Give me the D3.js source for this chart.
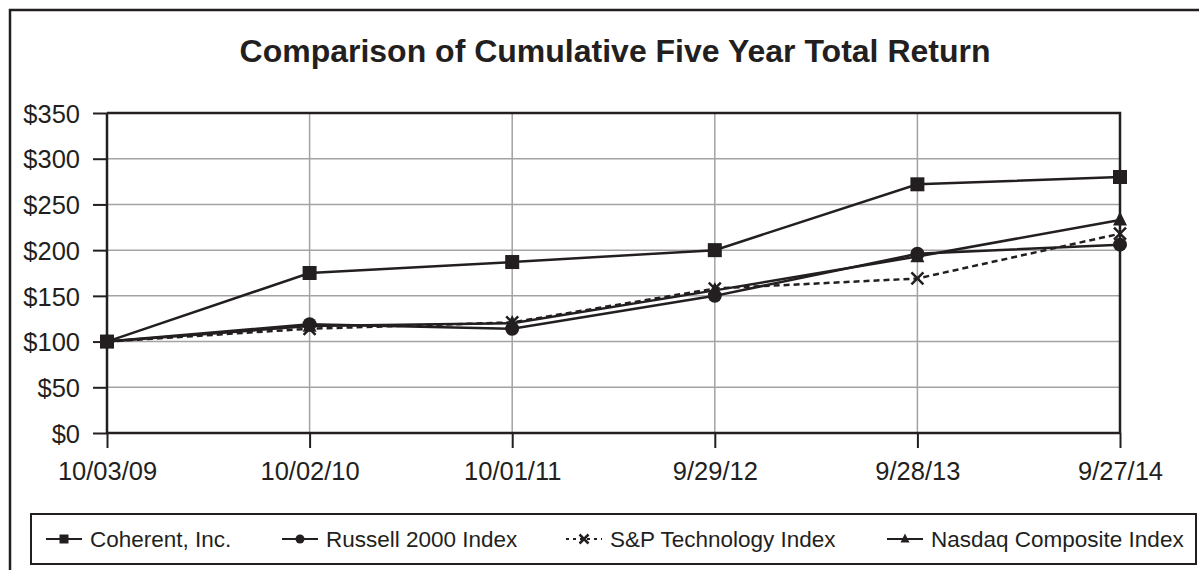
<!DOCTYPE html>
<html>
<head>
<meta charset="utf-8">
<title>Comparison of Cumulative Five Year Total Return</title>
<script src="https://cdn.jsdelivr.net/npm/d3@7"></script>
<style>
  body { margin: 0; background: #fff; }
  svg { display: block; font-family: Arial, "Liberation Sans", Helvetica, sans-serif; }
</style>
</head>
<body>
<svg id="chart"></svg>
<script>
// data
const dates = ["10/03/09", "10/02/10", "10/01/11", "9/29/12", "9/28/13", "9/27/14"];
const coherent = [100, 175, 187, 200, 272, 280];
const russell = [100, 119, 114, 150, 196, 206];
const spTech = [100, 114, 121, 158, 169, 218];
const nasdaq = [100, 117, 120, 156, 193, 233];
const yTicks = [0, 50, 100, 150, 200, 250, 300, 350];

const series = [
  { name: "Coherent, Inc.", values: coherent, marker: "square", dash: null, lx: 46 },
  { name: "Russell 2000 Index", values: russell, marker: "circle", dash: null, lx: 282 },
  { name: "S&P Technology Index", values: spTech, marker: "cross", dash: "6,4", lx: 566 },
  { name: "Nasdaq Composite Index", values: nasdaq, marker: "triangle", dash: null, lx: 887 }
];

const W = 1199, H = 570;
const ink = "#231f20";
const svg = d3.select("#chart").attr("width", W).attr("height", H);

// outer frame (runs off the right and bottom edge)
svg.append("rect")
  .attr("x", 10).attr("y", 10).attr("width", 1220).attr("height", 600)
  .attr("fill", "none").attr("stroke", ink).attr("stroke-width", 2.5);

svg.append("text")
  .attr("x", 615).attr("y", 62)
  .attr("text-anchor", "middle")
  .attr("font-size", 32).attr("font-weight", "bold")
  .attr("fill", ink)
  .text("Comparison of Cumulative Five Year Total Return");

const plot = { left: 107, right: 1120, top: 113, bottom: 433 };

const x = d3.scalePoint().domain(dates).range([plot.left, plot.right]);
const y = d3.scaleLinear().domain([0, 350]).range([plot.bottom, plot.top]);

// grid
const grid = svg.append("g");
grid.selectAll(".hg").data(yTicks.slice(1, -1)).enter().append("line")
  .attr("x1", plot.left).attr("x2", plot.right)
  .attr("y1", d => y(d)).attr("y2", d => y(d))
  .attr("stroke", "#a3a3a3").attr("stroke-width", 1.5);
grid.selectAll(".vg").data(dates.slice(1, -1)).enter().append("line")
  .attr("x1", d => x(d)).attr("x2", d => x(d))
  .attr("y1", plot.top).attr("y2", plot.bottom)
  .attr("stroke", "#a3a3a3").attr("stroke-width", 1.5);

// plot border top + right
svg.append("path")
  .attr("d", `M${plot.left},${plot.top}H${plot.right}V${plot.bottom}`)
  .attr("fill", "none").attr("stroke", ink).attr("stroke-width", 2.5);

// axes
const yAxis = svg.append("g")
  .attr("transform", `translate(${plot.left},0)`)
  .call(d3.axisLeft(y).tickValues(yTicks).tickSize(14).tickPadding(13).tickFormat(d => "$" + d));
const xAxis = svg.append("g")
  .attr("transform", `translate(0,${plot.bottom})`)
  .call(d3.axisBottom(x).tickSize(15).tickPadding(14));

[yAxis, xAxis].forEach(a => {
  a.select(".domain").attr("stroke", ink).attr("stroke-width", 2.5);
  a.selectAll(".tick line").attr("stroke", ink).attr("stroke-width", 2);
  a.selectAll(".tick text").attr("fill", ink).attr("font-size", 25.5)
    .attr("font-family", "Arial, 'Liberation Sans', sans-serif");
});
yAxis.select(".domain").attr("d", `M0,${plot.top}V${plot.bottom}`);
xAxis.select(".domain").attr("d", `M${plot.left},0H${plot.right}`);
yAxis.selectAll(".tick text").attr("dy", "0.36em");

// markers
function drawMarker(g, type, cx, cy, s) {
  if (type === "square") {
    g.append("rect").attr("x", cx - s / 2).attr("y", cy - s / 2)
      .attr("width", s).attr("height", s).attr("fill", ink);
  } else if (type === "circle") {
    g.append("circle").attr("cx", cx).attr("cy", cy).attr("r", s / 2).attr("fill", ink);
  } else if (type === "triangle") {
    g.append("path")
      .attr("d", `M${cx},${cy - s * 0.6}L${cx + s / 2},${cy + s * 0.4}L${cx - s / 2},${cy + s * 0.4}Z`)
      .attr("fill", ink);
  } else if (type === "cross") {
    const h = s / 2;
    g.append("path")
      .attr("d", `M${cx - h},${cy - h}L${cx + h},${cy + h}M${cx + h},${cy - h}L${cx - h},${cy + h}`)
      .attr("stroke", ink).attr("stroke-width", 2.5).attr("fill", "none");
  }
}

const line = d3.line().x((d, i) => x(dates[i])).y(d => y(d));

const lines = svg.append("g");
series.forEach(s => {
  lines.append("path")
    .attr("d", line(s.values))
    .attr("fill", "none").attr("stroke", ink).attr("stroke-width", 2.5)
    .attr("stroke-dasharray", s.dash);
});
series.forEach(s => {
  const g = lines.append("g");
  s.values.forEach((v, i) => drawMarker(g, s.marker, x(dates[i]), y(v), s.marker === "cross" ? 12 : 14));
});

// legend
svg.append("rect")
  .attr("x", 31).attr("y", 514).attr("width", 1165).attr("height", 50)
  .attr("fill", "none").attr("stroke", ink).attr("stroke-width", 2);

const legend = svg.append("g");
series.forEach(s => {
  const g = legend.append("g");
  const ly = 539;
  g.append("line")
    .attr("x1", s.lx).attr("x2", s.lx + 36).attr("y1", ly).attr("y2", ly)
    .attr("stroke", ink).attr("stroke-width", 2).attr("stroke-dasharray", s.dash ? "3,4" : null);
  drawMarker(g, s.marker, s.lx + 18, ly, s.marker === "cross" ? 9 : 9);
  g.append("text")
    .attr("x", s.lx + 44).attr("y", 547)
    .attr("font-size", 22.5).attr("fill", ink)
    .text(s.name);
});
</script>
</body>
</html>
